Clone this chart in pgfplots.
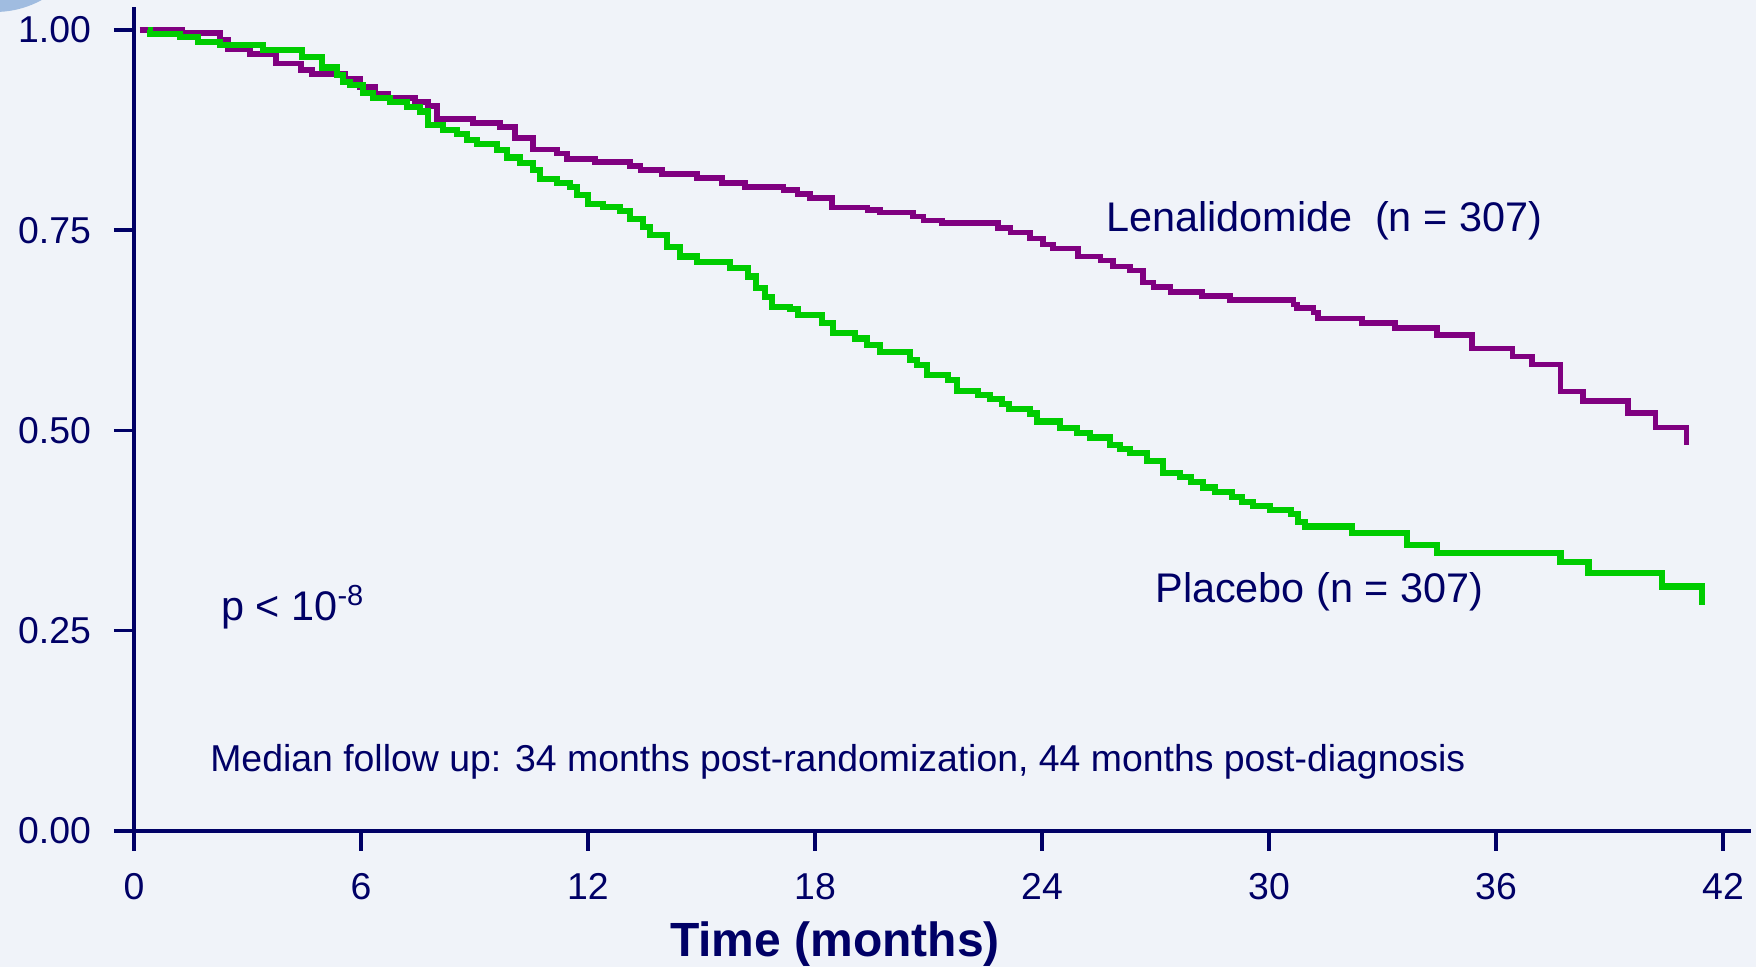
\documentclass[border=0pt]{standalone}
\usepackage{fontspec}
\setmainfont{Liberation Sans}
\usepackage{pgfplots}
\pgfplotsset{compat=1.18}
\definecolor{bg}{RGB}{240,243,249}
\definecolor{navy}{RGB}{0,0,102}
\definecolor{lena}{RGB}{128,0,128}
\definecolor{plac}{RGB}{0,204,0}
\definecolor{blob}{RGB}{160,188,224}

\begin{document}
\begin{tikzpicture}
\useasboundingbox (0,0) rectangle (878pt,483.5pt);
\fill[bg] (0,0) rectangle (878pt,483.5pt);
\fill[blob] (-2.5pt,526pt) circle (48.5pt);
\begin{axis}[
  at={(67pt,68pt)}, anchor=south west,
  scale only axis, width=808.5pt, height=412pt,
  xmin=0, xmax=42.74, ymin=0, ymax=1.0287,
  axis x line=bottom, axis y line=left,
  axis line style={navy, line width=1.75pt, -},
  tick align=outside, major tick length=10pt,
  tick style={navy, line width=1.75pt},
  xtick={0,6,...,42}, ytick={0,0.25,0.5,0.75,1},
  yticklabel style={/pgf/number format/fixed, /pgf/number format/fixed zerofill,
    /pgf/number format/precision=2, xshift=-8pt},
  xticklabel style={yshift=-7.5pt},
  tick label style={font=\fontsize{18.7}{22}\selectfont, text=navy},
  /pgf/number format/assume math mode=true,
  clip=false,
]
% Lenalidomide
\addplot[const plot, no marks, lena, line width=2.7pt] coordinates {
(0.15,1.000) (1.27,0.996) (2.27,0.988) (2.48,0.976) (3.07,0.970) (3.75,0.958)
(4.41,0.950) (4.71,0.945) (5.58,0.939) (5.97,0.929) (6.37,0.921) (6.71,0.915)
(7.43,0.910) (7.77,0.905) (8.01,0.889) (8.96,0.884) (9.67,0.879) (10.07,0.865)
(10.55,0.851) (11.18,0.846) (11.45,0.839) (12.19,0.835) (13.11,0.830) (13.38,0.825)
(13.96,0.820) (14.88,0.815) (15.54,0.809) (16.15,0.804) (17.16,0.800) (17.53,0.795)
(17.87,0.790) (18.45,0.778) (19.38,0.775) (19.72,0.772) (20.59,0.767) (20.86,0.762)
(21.36,0.759) (22.84,0.753) (23.16,0.747) (23.68,0.740) (24.03,0.732) (24.29,0.727)
(24.95,0.717) (25.54,0.712) (25.88,0.705) (26.33,0.700) (26.67,0.685) (26.94,0.679)
(27.39,0.673) (28.23,0.668) (28.97,0.663) (30.64,0.657) (30.74,0.653) (31.17,0.647)
(31.30,0.640) (32.46,0.634) (33.33,0.628) (34.44,0.619) (35.37,0.602) (36.43,0.592)
(36.95,0.582) (37.70,0.549) (38.30,0.537) (39.49,0.522) (40.21,0.504) (41.03,0.482)
};
% Placebo
\addplot[const plot, no marks, plac, line width=3.2pt] coordinates {
(0.37,1.000) (0.42,0.995) (1.22,0.991) (1.69,0.985) (2.27,0.981) (3.41,0.975)
(4.44,0.966) (4.97,0.953) (5.37,0.944) (5.52,0.935) (5.71,0.931) (6.05,0.921)
(6.32,0.915) (6.77,0.910) (7.22,0.904) (7.56,0.898) (7.77,0.881) (8.17,0.875)
(8.54,0.870) (8.80,0.863) (9.07,0.858) (9.60,0.850) (9.86,0.841) (10.20,0.834)
(10.55,0.825) (10.73,0.814) (11.18,0.809) (11.53,0.804) (11.71,0.794) (12.00,0.783)
(12.40,0.779) (12.85,0.774) (13.11,0.764) (13.45,0.754) (13.64,0.744) (14.09,0.729)
(14.43,0.717) (14.88,0.710) (15.75,0.703) (16.23,0.692) (16.44,0.678) (16.68,0.667)
(16.86,0.654) (17.34,0.652) (17.55,0.644) (18.19,0.634) (18.48,0.622) (19.06,0.615)
(19.38,0.607) (19.72,0.598) (20.51,0.588) (20.70,0.582) (20.96,0.569) (21.52,0.563)
(21.76,0.549) (22.31,0.544) (22.63,0.539) (22.95,0.533) (23.13,0.527) (23.68,0.521)
(23.87,0.511) (24.48,0.503) (24.93,0.497) (25.27,0.491) (25.80,0.482) (26.06,0.477)
(26.33,0.472) (26.78,0.462) (27.20,0.447) (27.65,0.442) (27.94,0.436) (28.26,0.429)
(28.58,0.423) (29.02,0.417) (29.29,0.411) (29.58,0.406) (30.03,0.401) (30.58,0.396)
(30.77,0.386) (30.95,0.380) (32.20,0.372) (33.65,0.357) (34.44,0.347) (37.70,0.336)
(38.44,0.322) (40.39,0.305) (41.45,0.282)
};
\node[anchor=base west, font=\fontsize{20.7}{24}\selectfont, text=navy]
  at (axis cs:25.51,0.748) {Lenalidomide\hspace{0.55em}(n = 307)};
\node[anchor=base west, font=\fontsize{20.7}{24}\selectfont, text=navy]
  at (axis cs:26.81,0.285) {Placebo (n = 307)};
\node[anchor=base west, font=\fontsize{20.7}{24}\selectfont, text=navy]
  at (axis cs:2.12,0.263) {p < 10\textsuperscript{-8}};
\node[anchor=base west, font=\fontsize{18.7}{22}\selectfont, text=navy]
  at (axis cs:1.83,0.074) {Median follow up: 34 months post-randomization, 44 months post-diagnosis};
\end{axis}
\node[anchor=base, font=\bfseries\fontsize{24}{28}\selectfont, text=navy]
  at (417.5pt,5pt) {Time (months)};
\end{tikzpicture}
\end{document}
